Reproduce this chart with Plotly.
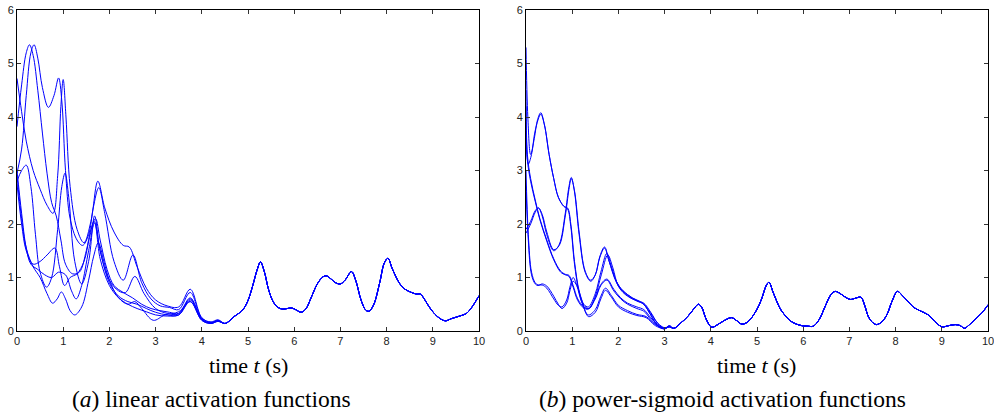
import plotly.graph_objects as go

# ---------------- Left panel (a): linear activation functions ----------------
A_TAIL_T = [4.5, 4.6, 4.7, 4.8, 4.9, 5.0, 5.1, 5.2, 5.27, 5.35, 5.45, 5.55, 5.65, 5.75, 5.85, 5.95,
            6.05, 6.15, 6.25, 6.37, 6.5, 6.62, 6.7, 6.8, 6.9, 7.0, 7.1, 7.24, 7.33, 7.45, 7.55, 7.62,
            7.72, 7.85, 7.95, 8.03, 8.12, 8.28, 8.4, 8.54, 8.65, 8.73, 8.8, 8.9, 9.0, 9.1, 9.2, 9.28,
            9.4, 9.51, 9.62, 9.73, 9.85, 10.0]
A_TAIL_Y = [0.14, 0.19, 0.27, 0.33, 0.41, 0.57, 0.84, 1.15, 1.29, 1.12, 0.76, 0.54, 0.44, 0.41, 0.42, 0.43,
            0.39, 0.35, 0.41, 0.63, 0.88, 1.01, 1.03, 0.97, 0.90, 0.88, 0.95, 1.11, 0.95, 0.57, 0.39, 0.37,
            0.49, 0.90, 1.27, 1.36, 1.17, 0.89, 0.78, 0.72, 0.69, 0.69, 0.62, 0.48, 0.36, 0.27, 0.21, 0.19,
            0.23, 0.26, 0.29, 0.33, 0.45, 0.66]

A1_T = [0, 0.1, 0.2, 0.35, 0.5, 0.65, 0.78, 0.88, 0.95, 1.0, 1.06, 1.15, 1.3, 1.45, 1.6, 1.75, 1.9,
        2.1, 2.3, 2.43, 2.6, 2.8, 3.0, 3.25, 3.5, 3.75, 4.0, 4.2, 4.35]
A1_Y = [4.72, 4.1, 3.55, 3.0, 2.65, 2.35, 2.2, 2.9, 4.2, 4.7, 4.0, 2.7, 1.9, 1.65, 2.05, 2.8, 2.3,
        1.85, 1.6, 1.57, 1.2, 0.8, 0.58, 0.47, 0.45, 0.78, 0.25, 0.16, 0.2]

A2_T = [0, 0.1, 0.2, 0.3, 0.37, 0.45, 0.55, 0.68, 0.8, 0.9, 0.97, 1.05, 1.15, 1.3, 1.42, 1.55, 1.65,
        1.77, 1.9, 2.1, 2.3, 2.51, 2.7, 2.9, 3.1, 3.3, 3.5, 3.75, 4.0, 4.2, 4.35]
A2_Y = [2.95, 3.4, 4.4, 5.2, 5.35, 5.1, 4.55, 4.18, 4.4, 4.73, 4.3, 3.0, 2.1, 1.7, 1.6, 1.8, 2.3,
        2.68, 2.2, 1.3, 0.95, 1.42, 0.9, 0.6, 0.47, 0.44, 0.4, 0.72, 0.24, 0.17, 0.21]

A3_T = [0, 0.1, 0.2, 0.27, 0.35, 0.45, 0.55, 0.65, 0.75, 0.85, 0.95, 1.05, 1.2, 1.35, 1.5, 1.6, 1.7,
        1.8, 1.95, 2.1, 2.3, 2.5, 2.7, 2.9, 3.1, 3.3, 3.5, 3.75, 4.0, 4.2, 4.35]
A3_Y = [3.82, 4.6, 5.2, 5.35, 5.15, 4.5, 3.7, 2.95, 2.4, 2.15, 1.7, 1.25, 1.07, 1.1, 1.5, 1.9, 2.1,
        1.7, 1.15, 0.85, 0.72, 0.62, 0.5, 0.42, 0.38, 0.35, 0.33, 0.62, 0.22, 0.15, 0.19]

A4_T = [0, 0.1, 0.2, 0.3, 0.4, 0.5, 0.64, 0.75, 0.88, 0.97, 1.04, 1.12, 1.25, 1.4, 1.55, 1.68, 1.8,
        2.0, 2.2, 2.35, 2.55, 2.75, 3.0, 3.25, 3.5, 3.75, 4.0, 4.2, 4.35]
A4_Y = [2.8, 3.0, 3.1, 2.7, 1.8, 1.1, 0.82, 1.0, 1.9, 2.7, 2.95, 2.5, 1.3, 0.88, 1.3, 2.15, 1.5,
        0.95, 0.75, 0.72, 1.02, 0.7, 0.42, 0.33, 0.32, 0.6, 0.22, 0.15, 0.19]

A5_T = [0, 0.1, 0.2, 0.35, 0.5, 0.65, 0.82, 0.92, 1.03, 1.15, 1.3, 1.45, 1.57, 1.67, 1.8, 2.0, 2.2,
        2.4, 2.6, 2.8, 3.0, 3.25, 3.5, 3.75, 4.0, 4.2, 4.35]
A5_Y = [2.75, 2.0, 1.5, 1.25, 1.3, 1.42, 1.55, 1.2, 0.85, 1.0, 1.07, 1.3, 1.75, 2.05, 1.5, 0.9, 0.65,
        0.55, 0.5, 0.42, 0.35, 0.3, 0.3, 0.58, 0.21, 0.15, 0.19]

A6_T = [0, 0.1, 0.2, 0.3, 0.45, 0.6, 0.75, 0.9, 1.05, 1.18, 1.28, 1.4, 1.55, 1.68, 1.8, 2.0, 2.2,
        2.4, 2.6, 2.8, 3.0, 3.25, 3.5, 3.75, 4.0, 4.2, 4.35]
A6_Y = [3.0, 2.2, 1.55, 1.25, 1.15, 1.05, 1.0, 1.1, 1.05, 0.75, 0.6, 0.85, 1.5, 2.02, 1.35, 0.85, 0.62,
        0.5, 0.42, 0.36, 0.3, 0.28, 0.3, 0.55, 0.2, 0.14, 0.18]

A7_T = [0, 0.1, 0.2, 0.35, 0.5, 0.65, 0.77, 0.87, 0.96, 1.05, 1.15, 1.25, 1.4, 1.55, 1.66, 1.76, 1.88,
        2.0, 2.2, 2.4, 2.55, 2.7, 2.95, 3.2, 3.5, 3.75, 4.0, 4.2, 4.35]
A7_Y = [2.9, 2.1, 1.55, 1.2, 1.0, 0.7, 0.52, 0.6, 0.73, 0.6, 0.38, 0.3, 0.45, 0.95, 1.4, 1.65, 1.3,
        0.95, 0.62, 0.5, 0.55, 0.42, 0.2, 0.3, 0.36, 0.55, 0.2, 0.14, 0.18]

# ---------------- Right panel (b): power-sigmoid activation functions ----------------
B_TAIL_T = [3.2, 3.35, 3.5, 3.62, 3.73, 3.8, 3.9, 4.02, 4.15, 4.3, 4.45, 4.55, 4.67, 4.8, 4.99, 5.1,
            5.2, 5.26, 5.35, 5.5, 5.6, 5.72, 5.85, 5.97, 6.1, 6.22, 6.35, 6.47, 6.6, 6.69, 6.8, 6.9,
            7.02, 7.12, 7.25, 7.33, 7.41, 7.5, 7.59, 7.7, 7.81, 7.92, 8.04, 8.15, 8.28, 8.38, 8.5,
            8.71, 8.85, 9.0, 9.15, 9.29, 9.4, 9.49, 9.6, 9.75, 9.88, 10.0]
B_TAIL_Y = [0.05, 0.15, 0.27, 0.40, 0.50, 0.45, 0.22, 0.07, 0.12, 0.20, 0.25, 0.20, 0.13, 0.17, 0.39, 0.60,
            0.85, 0.91, 0.72, 0.42, 0.30, 0.19, 0.13, 0.10, 0.09, 0.09, 0.22, 0.45, 0.68, 0.74, 0.70, 0.64,
            0.59, 0.61, 0.63, 0.48, 0.27, 0.16, 0.12, 0.17, 0.30, 0.55, 0.74, 0.66, 0.54, 0.45, 0.39,
            0.30, 0.18, 0.08, 0.10, 0.12, 0.10, 0.05, 0.12, 0.24, 0.35, 0.49]

B1_T = [0, 0.04, 0.1, 0.18, 0.25, 0.32, 0.4, 0.5, 0.6, 0.7, 0.82, 0.9, 0.97, 1.05, 1.15, 1.25, 1.35,
        1.5, 1.62, 1.75, 1.85, 2.0, 2.2, 2.4, 2.55, 2.7, 2.85, 3.0, 3.1]
B1_Y = [5.3, 4.0, 3.3, 3.6, 3.95, 4.08, 3.85, 3.3, 2.85, 2.5, 2.33, 2.3, 2.0, 1.3, 0.75, 0.5, 0.45,
        0.7, 1.1, 1.45, 1.2, 0.85, 0.68, 0.57, 0.52, 0.35, 0.15, 0.06, 0.08]

B2_T = [0, 0.05, 0.12, 0.2, 0.32, 0.4, 0.5, 0.6, 0.7, 0.82, 0.9, 0.97, 1.05, 1.15, 1.25, 1.37, 1.5,
        1.63, 1.77, 1.88, 2.0, 2.2, 2.4, 2.55, 2.7, 2.85, 3.0, 3.1]
B2_Y = [3.6, 3.12, 3.3, 3.75, 4.05, 3.85, 3.3, 2.85, 2.5, 2.33, 2.28, 1.95, 1.25, 0.72, 0.48, 0.42, 0.65,
        1.05, 1.42, 1.18, 0.84, 0.66, 0.56, 0.5, 0.33, 0.14, 0.05, 0.08]

B3_T = [0, 0.1, 0.2, 0.27, 0.35, 0.45, 0.6, 0.72, 0.85, 0.93, 0.98, 1.05, 1.15, 1.28, 1.4, 1.5, 1.6,
        1.7, 1.8, 1.95, 2.1, 2.3, 2.45, 2.55, 2.7, 2.85, 3.0, 3.1]
B3_Y = [1.83, 2.0, 2.22, 2.3, 2.15, 1.8, 1.5, 1.62, 2.2, 2.7, 2.87, 2.6, 1.8, 1.1, 0.93, 1.05, 1.4,
        1.57, 1.3, 0.92, 0.72, 0.6, 0.55, 0.5, 0.3, 0.1, 0.04, 0.1]
B3B_Y = [1.9, 2.05, 2.25, 2.3, 2.18, 1.85, 1.52, 1.6, 2.15, 2.65, 2.85, 2.62, 1.85, 1.12, 0.95, 1.05, 1.38,
         1.55, 1.3, 0.94, 0.75, 0.62, 0.56, 0.5, 0.3, 0.1, 0.04, 0.1]

B4_T = [0, 0.03, 0.1, 0.2, 0.3, 0.45, 0.6, 0.75, 0.85, 0.93, 1.02, 1.12, 1.25, 1.35, 1.5, 1.62, 1.75,
        1.9, 2.05, 2.2, 2.4, 2.55, 2.7, 2.85, 3.0, 3.1]
B4_Y = [4.5, 3.3, 2.85, 2.45, 2.1, 1.7, 1.35, 1.12, 1.06, 1.04, 0.85, 0.6, 0.45, 0.42, 0.6, 0.85, 0.95,
        0.75, 0.6, 0.5, 0.42, 0.37, 0.22, 0.1, 0.06, 0.08]
B4B_Y = [4.2, 3.2, 2.8, 2.42, 2.08, 1.68, 1.33, 1.1, 1.05, 1.02, 0.82, 0.57, 0.43, 0.41, 0.62, 0.87, 0.97,
         0.78, 0.62, 0.52, 0.45, 0.4, 0.25, 0.12, 0.05, 0.08]

B5_T = [0, 0.05, 0.12, 0.2, 0.26, 0.35, 0.45, 0.6, 0.7, 0.78, 0.88, 0.95, 1.02, 1.1, 1.2, 1.35, 1.5,
        1.62, 1.72, 1.85, 2.0, 2.2, 2.4, 2.6, 2.8, 3.0, 3.1]
B5_Y = [3.0, 1.8, 1.1, 0.9, 0.86, 0.86, 0.8, 0.6, 0.48, 0.45, 0.58, 0.82, 1.0, 0.85, 0.55, 0.3, 0.4,
        0.65, 0.8, 0.66, 0.48, 0.38, 0.31, 0.27, 0.12, 0.05, 0.08]
B6_Y = [2.7, 1.7, 1.05, 0.88, 0.85, 0.88, 0.84, 0.65, 0.5, 0.42, 0.52, 0.75, 0.93, 0.85, 0.6, 0.27, 0.35,
        0.6, 0.76, 0.63, 0.45, 0.35, 0.29, 0.25, 0.1, 0.04, 0.08]

X_TICKS = list(range(0, 11))
Y_TICKS = list(range(0, 7))
X_TITLE = "time <i>t</i> (s)"
CAPTION_A = "(<i>a</i>) linear activation functions"
CAPTION_B = "(<i>b</i>) power-sigmoid activation functions"

LEFT = [(A1_T, A1_Y), (A2_T, A2_Y), (A3_T, A3_Y), (A4_T, A4_Y), (A5_T, A5_Y), (A6_T, A6_Y), (A7_T, A7_Y)]
RIGHT = [(B1_T, B1_Y), (B2_T, B2_Y), (B3_T, B3_Y), (B3_T, B3B_Y), (B4_T, B4_Y), (B4_T, B4B_Y),
         (B5_T, B5_Y), (B5_T, B6_Y)]

fig = go.Figure()
BLUE = "#0000ff"

for t, y in LEFT:
    fig.add_trace(go.Scatter(x=t + A_TAIL_T, y=y + A_TAIL_Y, mode="lines",
                             line=dict(color=BLUE, width=1, shape="spline", smoothing=1.0),
                             xaxis="x", yaxis="y", showlegend=False, hoverinfo="skip"))
for t, y in RIGHT:
    fig.add_trace(go.Scatter(x=t + B_TAIL_T, y=y + B_TAIL_Y, mode="lines",
                             line=dict(color=BLUE, width=1, shape="spline", smoothing=1.0),
                             xaxis="x2", yaxis="y2", showlegend=False, hoverinfo="skip"))

W, H = 994, 414
ML, MR, MT, MB = 17, 6, 10, 83
PW = W - ML - MR
PH = H - MT - MB
d1 = [0, (479 - ML) / PW]
d2 = [(526 - ML) / PW, 1]

tickfont = dict(family="Liberation Sans, Arial, sans-serif", size=11, color="#222")
axis_common = dict(showline=True, linecolor="black", linewidth=1, mirror="ticks",
                   ticks="inside", ticklen=4, tickcolor="#333", tickwidth=1,
                   showgrid=False, zeroline=False, tickfont=tickfont, automargin=False,
                   ticklabeloverflow="allow")

fig.update_layout(
    width=W, height=H,
    margin=dict(l=ML, r=MR, t=MT, b=MB),
    paper_bgcolor="white", plot_bgcolor="white",
    xaxis=dict(domain=d1, range=[0, 10], tickvals=X_TICKS, anchor="y", **axis_common),
    yaxis=dict(domain=[0, 1], range=[0, 6], tickvals=Y_TICKS, anchor="x", **axis_common),
    xaxis2=dict(domain=d2, range=[0, 10], tickvals=X_TICKS, anchor="y2", **axis_common),
    yaxis2=dict(domain=[0, 1], range=[0, 6], tickvals=Y_TICKS, anchor="x2", **axis_common),
)

serif = dict(family="Liberation Serif, Times New Roman, serif", color="black")
yt = (331 - 365) / PH
yc = (331 - 399) / PH
for xc in [(d1[0] + d1[1]) / 2, (d2[0] + d2[1]) / 2]:
    fig.add_annotation(x=xc, y=yt, xref="paper", yref="paper", text=X_TITLE, showarrow=False,
                       xanchor="center", yanchor="middle", font=dict(size=22, **serif))
fig.add_annotation(x=(70 - ML) / PW, y=yc, xref="paper", yref="paper", text=CAPTION_A, showarrow=False,
                   xanchor="left", yanchor="middle", font=dict(size=23.5, **serif))
fig.add_annotation(x=(537 - ML) / PW, y=yc, xref="paper", yref="paper", text=CAPTION_B, showarrow=False,
                   xanchor="left", yanchor="middle", font=dict(size=23.5, **serif))

fig.write_html("out.html", config={"displayModeBar": False, "staticPlot": True},
               post_script="document.body.style.margin='0';document.body.style.overflow='hidden';")
